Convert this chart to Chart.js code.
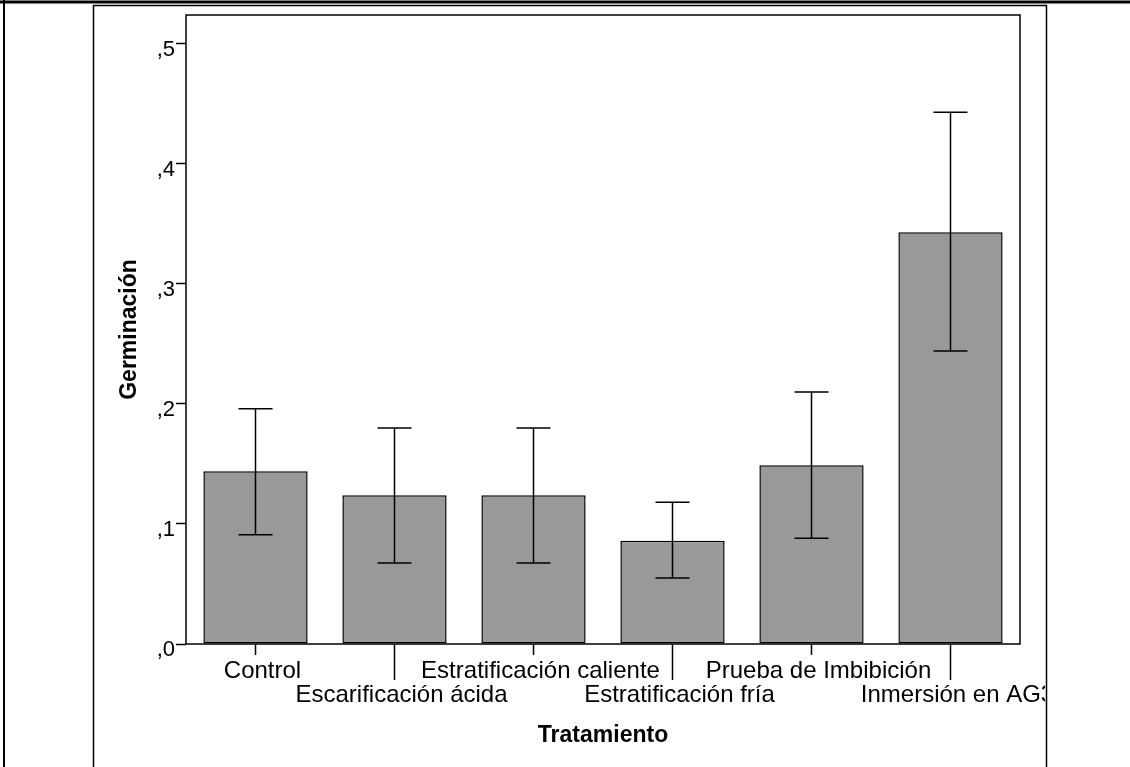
<!DOCTYPE html>
<html lang="es">
<head>
<meta charset="utf-8">
<title>Germinación por tratamiento</title>
<script src="https://cdn.jsdelivr.net/npm/chart.js@4.4.1/dist/chart.umd.min.js"></script>
<style>
    html, body { margin: 0; padding: 0; background: #fff; }
    canvas { display: block; }
</style>
</head>
<body>
<canvas id="grafico" width="1130" height="767"></canvas>
<script>
// Datos
const tratamientos = ['Control', 'Escarificación ácida', 'Estratificación caliente', 'Estratificación fría', 'Prueba de Imbibición', 'Inmersión en AG3'];
const medias = [0.144, 0.124, 0.124, 0.086, 0.149, 0.343];
const limiteInferior = [0.091, 0.0675, 0.0675, 0.055, 0.088, 0.244];
const limiteSuperior = [0.196, 0.180, 0.180, 0.118, 0.210, 0.443];
const valoresEjeY = [0, 0.1, 0.2, 0.3, 0.4, 0.5];
const etiquetasEjeY = [',0', ',1', ',2', ',3', ',4', ',5'];

const FUENTE = '"Liberation Sans", Arial, sans-serif';

// Las etiquetas impares van en la segunda fila
function etiquetasEnDosFilas(lista) {
    return lista.map(function(texto, i) {
        return i % 2 === 1 ? ['', texto] : texto;
    });
}

// Fondo blanco
const fondoBlanco = {
    id: 'fondoBlanco',
    beforeDraw(chart) {
        const ctx = chart.ctx;
        ctx.save();
        ctx.fillStyle = '#fff';
        ctx.fillRect(0, 0, chart.width, chart.height);
        ctx.restore();
    }
};

// Barras de error (intervalo)
const barrasError = {
    id: 'barrasError',
    afterDatasetsDraw(chart) {
        const ctx = chart.ctx;
        const y = chart.scales.y;
        const barras = chart.getDatasetMeta(0).data;
        ctx.save();
        ctx.strokeStyle = '#000';
        ctx.lineWidth = 1.5;
        barras.forEach(function(barra, i) {
            const yAlto = y.getPixelForValue(limiteSuperior[i]);
            const yBajo = y.getPixelForValue(limiteInferior[i]);
            ctx.beginPath();
            ctx.moveTo(barra.x, yAlto);
            ctx.lineTo(barra.x, yBajo);
            ctx.moveTo(barra.x - 17, yAlto);
            ctx.lineTo(barra.x + 17, yAlto);
            ctx.moveTo(barra.x - 17, yBajo);
            ctx.lineTo(barra.x + 17, yBajo);
            ctx.stroke();
        });
        ctx.restore();
    }
};

// Caja del área, marcas del eje X y bordes de la tabla
const marcos = {
    id: 'marcos',
    afterDraw(chart) {
        const ctx = chart.ctx;
        const area = chart.chartArea;
        const x = chart.scales.x;
        ctx.save();

        // recorte de la última etiqueta en el borde del marco
        ctx.fillStyle = '#fff';
        ctx.fillRect(1045, 6, chart.width - 1045, chart.height);

        ctx.strokeStyle = '#000';
        ctx.lineWidth = 1.5;
        ctx.strokeRect(area.left, area.top, area.right - area.left, area.bottom - area.top);

        // marcas cortas y largas según la fila de la etiqueta
        ctx.beginPath();
        tratamientos.forEach(function(t, i) {
            const px = x.getPixelForTick(i);
            ctx.moveTo(px, area.bottom);
            ctx.lineTo(px, area.bottom + (i % 2 === 1 ? 36 : 11));
        });
        ctx.stroke();

        // marco del gráfico
        ctx.beginPath();
        ctx.moveTo(93.5, chart.height);
        ctx.lineTo(93.5, 5.5);
        ctx.lineTo(1046.5, 5.5);
        ctx.lineTo(1046.5, chart.height);
        ctx.stroke();

        // bordes de la celda exterior
        ctx.lineWidth = 3;
        ctx.beginPath();
        ctx.moveTo(0, 2);
        ctx.lineTo(chart.width, 2);
        ctx.stroke();
        ctx.lineWidth = 2;
        ctx.beginPath();
        ctx.moveTo(4, 0);
        ctx.lineTo(4, chart.height);
        ctx.stroke();

        ctx.restore();
    }
};

const ctx = document.getElementById('grafico').getContext('2d');

window.graficoGerminacion = new Chart(ctx, {
    type: 'bar',
    data: {
        labels: etiquetasEnDosFilas(tratamientos),
        datasets: [{
            label: 'Germinación',
            data: medias,
            backgroundColor: '#999999',
            borderColor: '#000',
            borderWidth: 1.5,
            borderSkipped: false,
            barPercentage: 0.75,
            categoryPercentage: 1
        }]
    },
    options: {
        responsive: false,
        devicePixelRatio: 1,
        animation: false,
        layout: {
            padding: { left: 0, right: 110, top: 15, bottom: 0 }
        },
        plugins: {
            legend: { display: false },
            tooltip: { enabled: false }
        },
        scales: {
            x: {
                afterFit: function(scale) { scale.height = 123; },
                grid: { display: false, drawTicks: false },
                border: { display: false },
                ticks: {
                    color: '#000',
                    padding: 15,
                    labelOffset: 7,
                    maxRotation: 0,
                    autoSkip: false,
                    font: { family: FUENTE, size: 24, lineHeight: '24px' }
                },
                title: {
                    display: true,
                    text: 'Tratamiento',
                    color: '#000',
                    padding: { top: 0, bottom: 19 },
                    font: { family: FUENTE, size: 23, weight: 'bold', lineHeight: '24px' }
                }
            },
            y: {
                min: 0,
                max: 0.524,
                afterFit: function(scale) { scale.width = 186; },
                afterBuildTicks: function(scale) {
                    scale.ticks = valoresEjeY.map(function(v) { return { value: v }; });
                },
                grid: {
                    drawOnChartArea: false,
                    drawTicks: true,
                    tickLength: 10,
                    tickWidth: 1.5,
                    tickColor: '#000'
                },
                border: { display: false },
                ticks: {
                    color: '#000',
                    padding: 1,
                    labelOffset: 6,
                    font: { family: FUENTE, size: 22 },
                    callback: function(value, i) { return etiquetasEjeY[i]; }
                },
                title: {
                    display: true,
                    text: 'Germinación',
                    color: '#000',
                    padding: { top: 118, bottom: 0 },
                    font: { family: FUENTE, size: 23, weight: 'bold', lineHeight: '24px' }
                }
            }
        }
    },
    plugins: [fondoBlanco, barrasError, marcos]
});
</script>
</body>
</html>
